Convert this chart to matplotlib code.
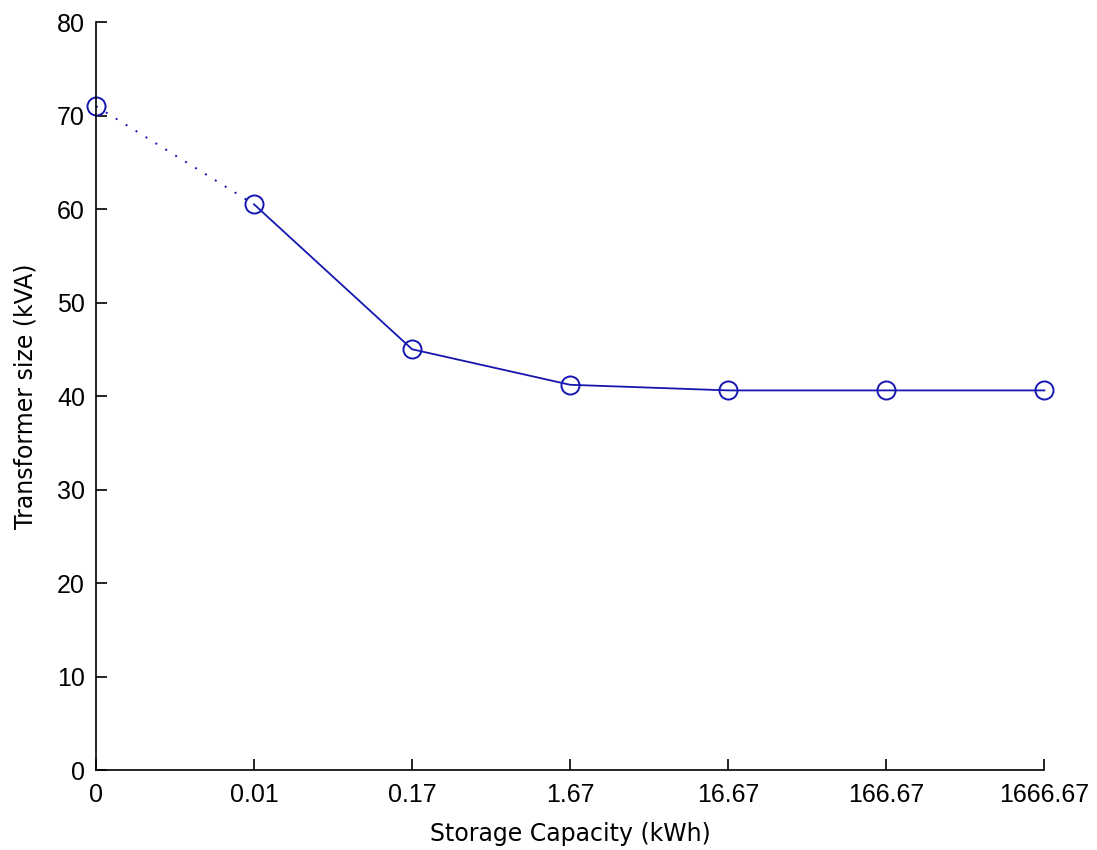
import numpy as np
import matplotlib; matplotlib.use("Agg")
import matplotlib.pyplot as plt

# storage sizes (kWh) shown as equally spaced categories
capacity_labels = ["0", "0.01", "0.17", "1.67", "16.67", "166.67", "1666.67"]
transformer_kva = [71.0, 60.5, 45.0, 41.2, 40.6, 40.6, 40.6]

plt.rcParams["font.family"] = ["Liberation Sans", "DejaVu Sans"]

fig = plt.figure(figsize=(10.97, 8.5), dpi=100)
ax = fig.add_axes([0.0875, 0.0941, 0.8645, 0.8800])

x = np.arange(len(capacity_labels))
blue = "#1616b0"
# no-storage point joined with a dotted segment, the rest solid
ax.plot(x[:2], transformer_kva[:2], color=blue, linestyle=(0, (1, 5)), lw=1.4)
ax.plot(x[1:], transformer_kva[1:], color=blue, lw=1.3)
ax.plot(x, transformer_kva, linestyle="none", marker="o", markersize=13,
        markerfacecolor="none", markeredgecolor=blue, markeredgewidth=1.4)

ax.set_xlim(0, len(x) - 1)
ax.set_ylim(0, 80)
ax.set_xticks(x)
ax.set_xticklabels(capacity_labels)
ax.set_yticks(np.arange(0, 81, 10))
ax.tick_params(direction="in", length=8, labelsize=18, width=1.2)
ax.tick_params(axis="x", pad=9)
ax.tick_params(axis="y", pad=8)
for s in ("left", "bottom"):
    ax.spines[s].set_linewidth(1.2)
ax.spines["top"].set_visible(False)
ax.spines["right"].set_visible(False)
ax.set_xlabel("Storage Capacity (kWh)", fontsize=17, family="DejaVu Sans",
              labelpad=11)
ax.set_ylabel("Transformer size (kVA)", fontsize=17, family="DejaVu Sans",
              labelpad=14)
for ln in ax.lines:
    ln.set_clip_on(False)

fig.savefig("out.png", dpi=100)
